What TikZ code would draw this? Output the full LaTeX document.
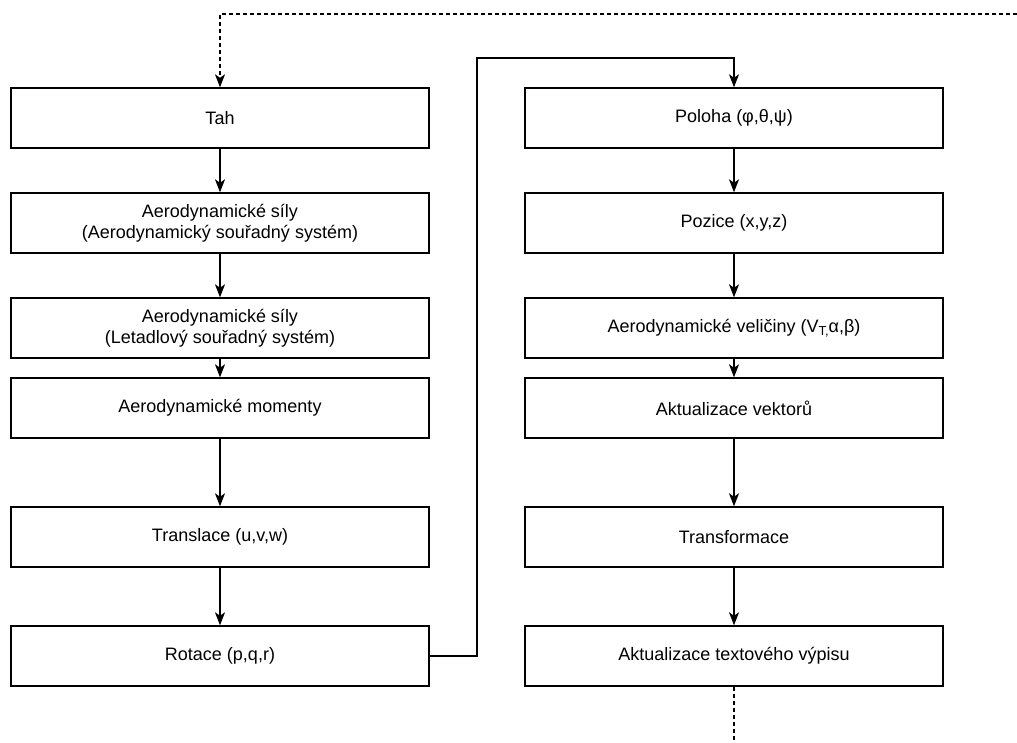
\documentclass[tikz,border=0pt]{standalone}
\usepackage{fontspec}
\setmainfont{Liberation Sans}
\usetikzlibrary{arrows.meta}
\begin{document}
\begin{tikzpicture}[x=1bp,y=-1bp,
  box/.style={draw, line width=1.4bp, minimum width=418bp, minimum height=60bp, inner sep=0pt, align=center, font=\fontsize{18bp}{21bp}\selectfont},
  arr/.style={line width=1.4bp, -{Stealth[length=13bp,width=10bp,inset=3.5bp]}},
  dsh/.style={line width=1.4bp, dash pattern=on 4bp off 3bp}]
\useasboundingbox (0,0) rectangle (1017,743);
% left column
\node[box] (tah) at (220,118) {Tah};
\node[box] (as1) at (220,223) {Aerodynamické síly\\(Aerodynamický souřadný systém)};
\node[box] (as2) at (220,328) {Aerodynamické síly\\(Letadlový souřadný systém)};
\node[box] (am) at (220,408) {Aerodynamické momenty};
\node[box] (tr) at (220,537) {Translace (u,v,w)};
\node[box] (rot) at (220,656) {Rotace (p,q,r)};
% right column
\node[box] (pol) at (734,118) {Poloha (φ,θ,ψ)};
\node[box] (poz) at (734,223) {Pozice (x,y,z)};
\node[box] (vel) at (734,328) {Aerodynamické veličiny (V\raisebox{-0.35ex}{\fontsize{13bp}{13bp}\selectfont T,}α,β)};
\node[box] (akv) at (734,408) {Aktualizace vektorů};
\node[box] (trf) at (734,537) {Transformace};
\node[box] (akt) at (734,656) {Aktualizace textového výpisu};
% arrows
\foreach \a/\b in {tah/as1,as1/as2,as2/am,am/tr,tr/rot,pol/poz,poz/vel,vel/akv,akv/trf,trf/akt}
  \draw[arr] (\a.south) -- (\b.north);
\draw[arr] (rot.east) -- (477,656) -- (477,58) -| (pol.north);
% dashed feedback
\coordinate (dstart) at (1017,14);
\coordinate (dend) at (734,743);
\draw[dsh] (akt.south) -- (dend);
\draw[dsh, arr] (dstart) -| (tah.north);
\end{tikzpicture}
\end{document}
